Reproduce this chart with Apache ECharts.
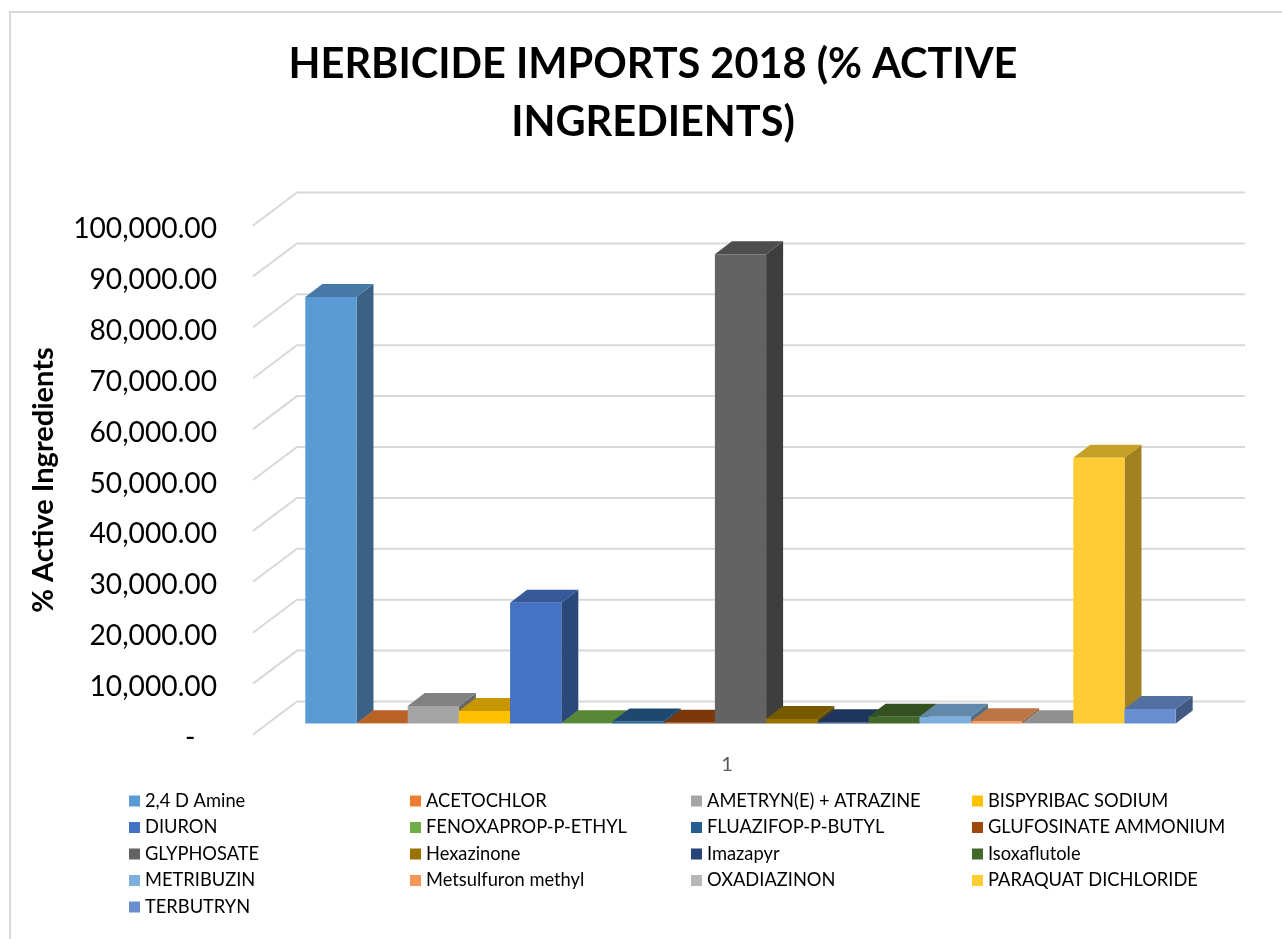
<!DOCTYPE html>
<html><head><meta charset="utf-8">
<style>html,body{margin:0;padding:0;background:#fff}#c{width:1282px;height:939px}</style>
<script src="https://cdn.jsdelivr.net/npm/echarts@6/dist/echarts.min.js"></script>
</head><body><div id="c"></div>
<script>
const categories = ['1'];
const herbicides = ['2,4 D Amine','ACETOCHLOR','AMETRYN(E) + ATRAZINE','BISPYRIBAC SODIUM','DIURON','FENOXAPROP-P-ETHYL','FLUAZIFOP-P-BUTYL','GLUFOSINATE AMMONIUM','GLYPHOSATE','Hexazinone','Imazapyr','Isoxaflutole','METRIBUZIN','Metsulfuron methyl','OXADIAZINON','PARAQUAT DICHLORIDE','TERBUTRYN'];
const imports = [83800,60,3450,2450,23700,60,400,150,92200,900,250,1350,1350,450,60,52200,2850];
const colors = ['#5B9BD5','#ED7D31','#A5A5A5','#FFC000','#4472C4','#70AD47','#255E91','#9E480E','#636363','#997300','#264478','#43682B','#7CAFDD','#F1975A','#B7B7B7','#FFCD33','#698ED0'];
const gridTicks = [0,10000,20000,30000,40000,50000,60000,70000,80000,90000,100000];

const shade = (hex, f) => {
  const n = parseInt(hex.slice(1), 16);
  const c = [n >> 16, (n >> 8) & 255, n & 255].map(v => Math.round(v * f));
  return `rgb(${c.join(',')})`;
};
const FONT = 'Lato';
const WALL_DX = 44, WALL_DY = 33;      // floor depth
const BAR_SHIFT_X = 13.5, BAR_SHIFT_Y = 11; // bars stand inside the floor
const BAR_DX = 17, BAR_DY = 13;        // bar depth
const BAR_FRACTION = 51.2 / 948;
const n = herbicides.length;

const wallSeries = {
  type: 'custom', name: 'wall', silent: true, z: 1,
  data: gridTicks.map(v => [0, v]),
  encode: { x: 0, y: 1 },
  renderItem(params, api) {
    const p = api.coord([0, api.value(1)]);
    const band = api.size([1, 0])[0];
    const x0 = p[0] - band / 2, y = p[1];
    return { type: 'polyline', shape: { points: [[x0, y], [x0 + WALL_DX, y - WALL_DY], [x0 + WALL_DX + band, y - WALL_DY]] },
      style: { stroke: '#d9d9d9', lineWidth: 2, fill: 'none' } };
  }
};

const barSeries = herbicides.map((name, i) => ({
  type: 'custom', name, z: 2 + i,
  itemStyle: { color: colors[i] },
  data: [[0, imports[i]]],
  encode: { x: 0, y: 1 },
  renderItem(params, api) {
    const top = api.coord([0, api.value(1)]);
    const base = api.coord([0, 0]);
    const w = api.size([1, 0])[0] * BAR_FRACTION;
    const x = top[0] + BAR_SHIFT_X + (i - n / 2) * w;
    const yT = top[1] - BAR_SHIFT_Y, yB = base[1] - BAR_SHIFT_Y;
    const c = colors[i];
    return { type: 'group', children: [
      { type: 'polygon', shape: { points: [[x + w, yT], [x + w + BAR_DX, yT - BAR_DY], [x + w + BAR_DX, yB - BAR_DY], [x + w, yB]] }, style: { fill: shade(c, 0.63) } },
      { type: 'polygon', shape: { points: [[x, yT], [x + BAR_DX, yT - BAR_DY], [x + w + BAR_DX, yT - BAR_DY], [x + w, yT]] }, style: { fill: shade(c, 0.78) } },
      { type: 'rect', shape: { x, y: yT, width: w, height: yB - yT }, style: { fill: c } }
    ] };
  }
}));

const legendColumns = [0, 1, 2, 3].map(c => herbicides.filter((_, i) => i % 4 === c));
const legendLeft = [129, 410, 691, 972];

const chart = echarts.init(document.getElementById('c'), null, { renderer: 'canvas' });
chart.setOption({
  animation: false,
  backgroundColor: '#fff',
  textStyle: { fontFamily: FONT },
  title: {
    text: 'HERBICIDE IMPORTS 2018 (% ACTIVE\nINGREDIENTS)',
    left: 648, top: 31, textAlign: 'center',
    textStyle: { fontFamily: FONT, fontSize: 41.5, fontWeight: 'bold', color: '#000', lineHeight: 58 }
  },
  grid: { left: 253, top: 225.5, width: 948, height: 509 },
  xAxis: {
    type: 'category', data: categories,
    axisLine: { show: false }, axisTick: { show: false }, splitLine: { show: false },
    axisLabel: { color: '#595959', fontSize: 20, margin: 20, fontFamily: FONT }
  },
  yAxis: {
    type: 'value', min: 0, max: 100000, interval: 10000,
    name: '% Active Ingredients', nameLocation: 'middle', nameGap: 195, nameRotate: 90,
    nameTextStyle: { fontFamily: FONT, fontSize: 29, fontWeight: 'bold', color: '#000' },
    axisLine: { show: false }, axisTick: { show: false }, splitLine: { show: false },
    axisLabel: { color: '#000', fontSize: 28.2, margin: 36, fontFamily: FONT, verticalAlign: 'top', lineHeight: 7,
      formatter: v => v === 0 ? '-   ' : v.toLocaleString('en-US', { minimumFractionDigits: 2, maximumFractionDigits: 2 }) }
  },
  legend: legendColumns.map((data, k) => ({
    data, left: legendLeft[k], top: 792, orient: 'vertical', icon: 'rect',
    itemWidth: 11, itemHeight: 11, itemGap: 8.5, selectedMode: false, padding: 0,
    textStyle: { fontFamily: FONT, fontSize: 18.3, color: '#000', padding: [0, 0, 0, 0], height: 18, lineHeight: 18 }
  })),
  series: [wallSeries, ...barSeries],
  graphic: [{ type: 'rect', silent: true, z: -1, shape: { x: 10, y: 12, width: 1400, height: 1100 }, style: { fill: 'none', stroke: '#d9d9d9', lineWidth: 2 } }]
});
</script></body></html>
